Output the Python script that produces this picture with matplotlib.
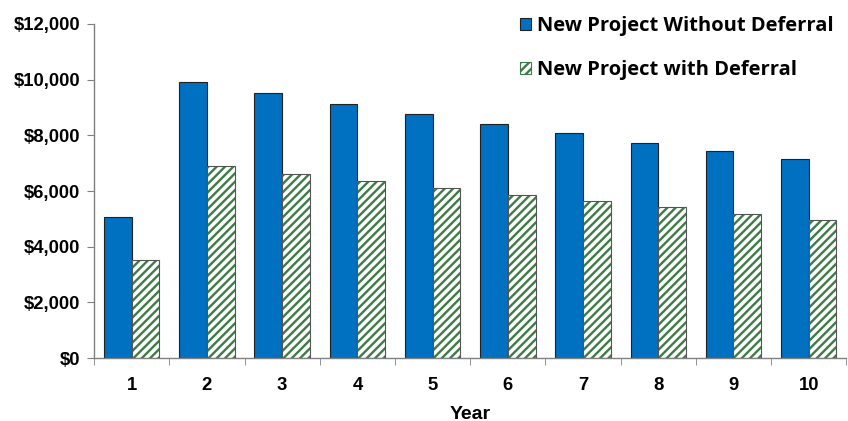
import matplotlib.pyplot as plt
from matplotlib.patches import Patch
from matplotlib.ticker import FuncFormatter, FixedLocator
import numpy as np

years = [1, 2, 3, 4, 5, 6, 7, 8, 9, 10]
without_deferral = [5050, 9920, 9520, 9130, 8770, 8410, 8085, 7730, 7440, 7150]
with_deferral = [3520, 6900, 6610, 6360, 6110, 5860, 5640, 5430, 5170, 4960]

blue = '#0070C0'
green = '#3E7B45'

plt.rcParams['hatch.linewidth'] = 1.7

fig = plt.figure(figsize=(8.48, 4.21), dpi=100)
ax = fig.add_axes([0.111, 0.1496, 0.887, 0.7934])

x = np.arange(len(years))
w = 0.369

ax.bar(x - w / 2, without_deferral, w, color=blue, edgecolor='#222222', linewidth=0.8, zorder=2)
ax.bar(x + w / 2, with_deferral, w, color='white', edgecolor=green, hatch='////', linewidth=0, zorder=2)
ax.bar(x + w / 2, with_deferral, w, fill=False, edgecolor='#555555', linewidth=0.8, zorder=3)

ax.set_xlim(-0.5, len(years) - 0.5)
ax.set_ylim(0, 12000)
ax.set_yticks(range(0, 12001, 2000))
ax.yaxis.set_major_formatter(FuncFormatter(lambda v, p: '${:,.0f}'.format(v)))

ax.set_xticks(x)
ax.set_xticklabels([str(y) for y in years])
ax.xaxis.set_minor_locator(FixedLocator(np.arange(-0.5, len(years), 1)))
ax.tick_params(axis='x', which='major', length=0, pad=14)
ax.tick_params(axis='x', which='minor', length=5, color='#808080', direction='out')
ax.tick_params(axis='y', length=5, color='#808080', direction='out', pad=5)

for lbl in ax.get_xticklabels() + ax.get_yticklabels():
    lbl.set_fontfamily('Liberation Sans')
    lbl.set_fontweight('bold')
    lbl.set_fontsize(13.3)

ax.set_xlabel('Year', fontfamily='Liberation Sans', fontweight='bold', fontsize=14, labelpad=8)

for s in ['top', 'right']:
    ax.spines[s].set_visible(False)
for s in ['left', 'bottom']:
    ax.spines[s].set_color('#808080')
    ax.spines[s].set_linewidth(1.0)

handles = [Patch(facecolor=blue, edgecolor='#222222', linewidth=0.8),
           Patch(facecolor='white', edgecolor=green, hatch='////', linewidth=0.8)]
leg = fig.legend(handles, ['New Project Without Deferral', 'New Project with Deferral'],
                 loc='upper right', bbox_to_anchor=(1.005, 1.005), frameon=False,
                 prop={'family': 'Open Sans', 'weight': 'bold', 'size': 14.5},
                 handlelength=0.55, handleheight=0.6, handletextpad=0.3, labelspacing=1.2)

fig.savefig('out.png', dpi=100)
